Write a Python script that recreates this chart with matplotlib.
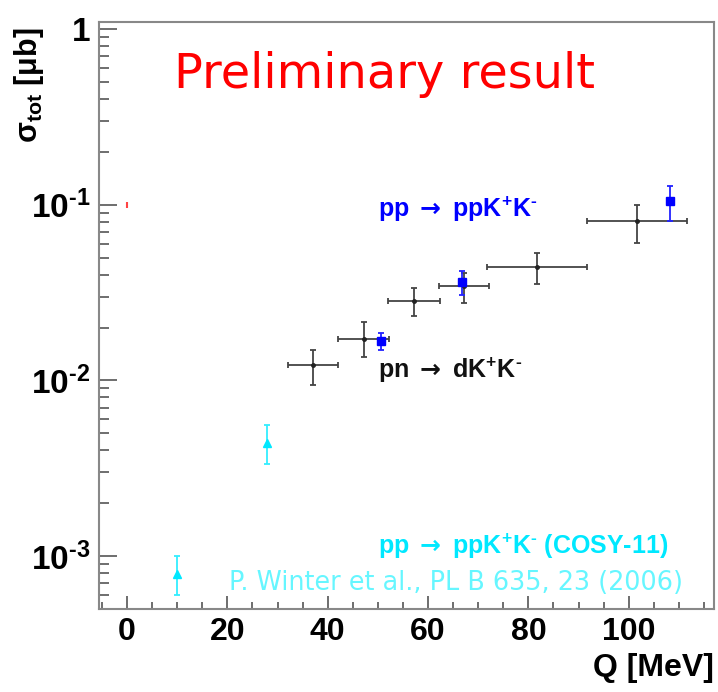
import numpy as np
import matplotlib
matplotlib.use("Agg")
import matplotlib.pyplot as plt
from matplotlib.ticker import MultipleLocator, LogLocator, FixedLocator, NullFormatter

plt.rcParams['font.family'] = ['Liberation Sans', 'DejaVu Sans']
plt.rcParams['font.weight'] = 'bold'
plt.rcParams['mathtext.fontset'] = 'custom'
plt.rcParams['mathtext.rm'] = 'Liberation Sans'
plt.rcParams['mathtext.bf'] = 'Liberation Sans:bold'
plt.rcParams['mathtext.it'] = 'Liberation Sans:italic'
plt.rcParams['mathtext.sf'] = 'DejaVu Sans'
plt.rcParams['mathtext.default'] = 'bf'

# ====== データ ======
# pn -> dK+K- (黒)
q_pn = [37.1, 47.2, 57.2, 67.1, 81.7, 101.6]
q_pn_err = [5.0, 5.1, 5.2, 5.0, 10.0, 10.0]
s_pn = [0.0123, 0.0172, 0.0283, 0.0344, 0.0442, 0.0807]
s_pn_lo = [0.0029, 0.0036, 0.0050, 0.0068, 0.0088, 0.0202]
s_pn_hi = [0.0026, 0.0043, 0.0053, 0.0066, 0.0088, 0.0189]

# pp -> ppK+K- (青)
q_pp = [50.6, 66.7, 108.2]
s_pp = [0.0168, 0.0363, 0.105]
s_pp_lo = [0.0019, 0.0058, 0.0243]
s_pp_hi = [0.0018, 0.0057, 0.023]

# pp -> ppK+K- COSY-11 (シアン)
q_cosy = [10.0, 27.9]
s_cosy = [7.9e-4, 4.4e-3]
s_cosy_lo = [1.9e-4, 1.05e-3]
s_cosy_hi = [2.1e-4, 1.2e-3]

# 左端の赤い点
q_red = [0.0]
s_red = [0.1]

y_ticks = [1e-3, 1e-2, 1e-1, 1.0]
y_ticklabels = ['$10^{\u20103}$', '$10^{\u20102}$', '$10^{\u20101}$', '$1$']
# ==================

KK = 'K$^{+}$K$^{\u2010}$'
ARROW = r'$\mathsf{\rightarrow}$'

fig = plt.figure(figsize=(7.18, 6.92), dpi=100)
ax = fig.add_axes([99 / 718, 1 - 609 / 692, 615 / 718, 587 / 692])

ebkw = dict(linestyle='none', capsize=2, elinewidth=1.3, capthick=1.3)
ax.errorbar(q_pn, s_pn, xerr=q_pn_err, yerr=[s_pn_lo, s_pn_hi],
            fmt='o', ms=2.5, color='#222222', ecolor='#444444', **ebkw)
ax.errorbar(q_pp, s_pp, yerr=[s_pp_lo, s_pp_hi],
            fmt='s', ms=6, color='#0000ff', ecolor='#2222ff', **ebkw)
ax.errorbar(q_cosy, s_cosy, yerr=[s_cosy_lo, s_cosy_hi],
            fmt='^', ms=6, color='#00e8ff', ecolor='#33eeff', **ebkw)
ax.plot(q_red, s_red, marker='|', ms=4, mew=1.5, color='#ff4444', linestyle='none')

ax.set_yscale('log')
ax.set_xlim(-5.6, 117)
ax.set_ylim(5.0e-4, 1.096)

ax.xaxis.set_major_locator(MultipleLocator(20))
ax.xaxis.set_minor_locator(MultipleLocator(5))
ax.yaxis.set_major_locator(FixedLocator(y_ticks))
ax.set_yticklabels(y_ticklabels)
ax.yaxis.set_minor_locator(LogLocator(base=10, subs=np.arange(2, 10)))
ax.yaxis.set_minor_formatter(NullFormatter())

for s in ax.spines.values():
    s.set_color('#888888')
    s.set_linewidth(1.5)

ax.tick_params(axis='both', which='both', direction='in', color='#555555', width=1.2,
               top=False, right=False)
ax.tick_params(axis='y', which='major', length=13, pad=6, labelsize=24)
ax.tick_params(axis='y', which='minor', length=7)
ax.tick_params(axis='x', which='major', length=9.5, pad=6, labelsize=23)
ax.tick_params(axis='x', which='minor', length=5)

# ラベル
fig.text(29 / 718, 1 - 85 / 692, r'$\sigma_{tot}$ [$\mu$b]', rotation=90,
         ha='center', va='center', fontsize=22, fontweight='bold')
fig.text(714 / 718, 1 - 668 / 692, 'Q [MeV]', ha='right', va='center',
         fontsize=23, fontweight='bold')

ax.text(0.465, 0.91, 'Preliminary result', transform=ax.transAxes, ha='center',
        va='center', fontsize=34.5, color='#ff0000', family='DejaVu Sans',
        fontweight='normal')
ax.text(0.4537, 0.68, 'pp ' + ARROW + ' pp' + KK, transform=ax.transAxes,
        ha='left', va='center', fontsize=18, color='#0000ff', fontweight='bold')
ax.text(0.4537, 0.407, 'pn ' + ARROW + ' d' + KK, transform=ax.transAxes,
        ha='left', va='center', fontsize=18, color='#111111', fontweight='bold')
ax.text(0.4537, 0.106, 'pp ' + ARROW + ' pp' + KK + ' (COSY-11)', transform=ax.transAxes,
        ha='left', va='center', fontsize=18, color='#00e8ff', fontweight='bold')
ax.text(0.95, 0.044, 'P. Winter et al., PL B 635, 23 (2006)', transform=ax.transAxes,
        ha='right', va='center', fontsize=18.4, color='#66f6ff', family='DejaVu Sans',
        fontweight='normal')

fig.savefig('out.png', dpi=100)
